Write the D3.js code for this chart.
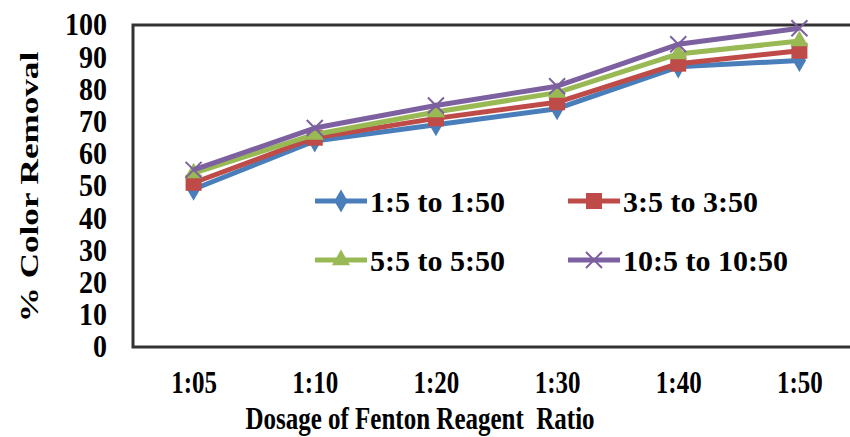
<!DOCTYPE html>
<html>
<head>
<meta charset="utf-8">
<script src="https://cdn.jsdelivr.net/npm/d3@7"></script>
<style>
  body { margin: 0; background: #fff; }
  text { font-family: "Liberation Serif", "Times New Roman", serif; font-weight: bold; fill: #000; }
</style>
</head>
<body>
<script>
// data
var categories = ["1:05", "1:10", "1:20", "1:30", "1:40", "1:50"]
var seriesNames = ["1:5 to 1:50", "3:5 to 3:50", "5:5 to 5:50", "10:5 to 10:50"]
var s1 = [49, 64, 69, 74, 87, 89]
var s2 = [51, 65, 71, 76, 88, 92]
var s3 = [54, 66, 73, 79, 91, 95]
var s4 = [55, 68, 75, 81, 94, 99]
var yTicks = [0, 10, 20, 30, 40, 50, 60, 70, 80, 90, 100]

var colors = ["#4A7EBB", "#BE4B48", "#98B954", "#7D60A0"]
var markers = ["diamond", "square", "triangle", "x"]

var width = 850, height = 437
var plot = {left: 133, right: 860, top: 25, bottom: 347}

var svg = d3.select("body").append("svg")
  .attr("width", width)
  .attr("height", height)

var x = d3.scalePoint().domain(categories).range([plot.left, plot.right]).padding(0.5)
var y = d3.scaleLinear().domain([0, 100]).range([plot.bottom, plot.top])

// frame
svg.append("rect")
  .attr("x", plot.left).attr("y", plot.top)
  .attr("width", plot.right - plot.left).attr("height", plot.bottom - plot.top)
  .attr("fill", "none").attr("stroke", "#333").attr("stroke-width", 3)

// y axis labels
var yAxis = svg.append("g")
  .attr("transform", "translate(" + plot.left + ",0)")
  .call(d3.axisLeft(y).tickValues(yTicks).tickSize(0).tickPadding(26))
yAxis.select(".domain").remove()
yAxis.selectAll("text")
  .style("font-size", "28px")
  .attr("transform", "scale(1,1.1)")

// x axis labels
var xAxis = svg.append("g")
  .attr("transform", "translate(0," + plot.bottom + ")")
  .call(d3.axisBottom(x).tickSize(0))
xAxis.select(".domain").remove()
xAxis.selectAll("text")
  .attr("y", 0).attr("dy", 0)
  .style("font-size", "25px")
  .attr("transform", "translate(0,46) scale(1,1.3)")

// axis titles
svg.append("text")
  .attr("text-anchor", "middle")
  .attr("transform", "translate(420,429) scale(1,1.3)")
  .style("font-size", "25px")
  .text("Dosage of Fenton Reagent\u00a0 Ratio")

svg.append("text")
  .attr("text-anchor", "middle")
  .attr("transform", "translate(38,187) rotate(-90) scale(1.35,1)")
  .style("font-size", "26px")
  .text("% Color Removal")

function drawMarker(g, type, color, size) {
  if (type == "diamond") {
    g.append("path").attr("d", d3.symbol(d3.symbolDiamond, size * size * 0.6)()).attr("fill", color)
  } else if (type == "square") {
    g.append("rect").attr("x", -size / 2).attr("y", -size / 2)
      .attr("width", size).attr("height", size).attr("fill", color)
  } else if (type == "triangle") {
    g.append("path").attr("d", d3.symbol(d3.symbolTriangle, size * size * 0.55)()).attr("fill", color)
  } else {
    var h = size / 2
    g.append("path").attr("d", "M" + (-h) + "," + (-h) + "L" + h + "," + h + "M" + (-h) + "," + h + "L" + h + "," + (-h))
      .attr("stroke", color).attr("stroke-width", 2).attr("fill", "none")
  }
}

var allSeries = [s1, s2, s3, s4]
var line = d3.line()
  .x(function(d, i) { return x(categories[i]) })
  .y(function(d) { return y(d) })

allSeries.forEach(function(vals, k) {
  svg.append("path")
    .datum(vals)
    .attr("d", line)
    .attr("fill", "none")
    .attr("stroke", colors[k])
    .attr("stroke-width", 5)
    .attr("stroke-linejoin", "round")
  vals.forEach(function(v, i) {
    var g = svg.append("g").attr("transform", "translate(" + x(categories[i]) + "," + y(v) + ")")
    drawMarker(g, markers[k], colors[k], 16)
  })
})

// legend
var legendPos = [[315, 201], [568, 201], [315, 260], [568, 260]]
seriesNames.forEach(function(name, k) {
  var g = svg.append("g").attr("transform", "translate(" + legendPos[k][0] + "," + legendPos[k][1] + ")")
  g.append("line").attr("x1", 0).attr("x2", 52).attr("y1", 0).attr("y2", 0)
    .attr("stroke", colors[k]).attr("stroke-width", 5)
  var m = g.append("g").attr("transform", "translate(26,0)")
  drawMarker(m, markers[k], colors[k], 16)
  g.append("text")
    .attr("x", 55).attr("dy", "0.35em")
    .style("font-size", "30px")
    .text(name)
})
</script>
</body>
</html>
